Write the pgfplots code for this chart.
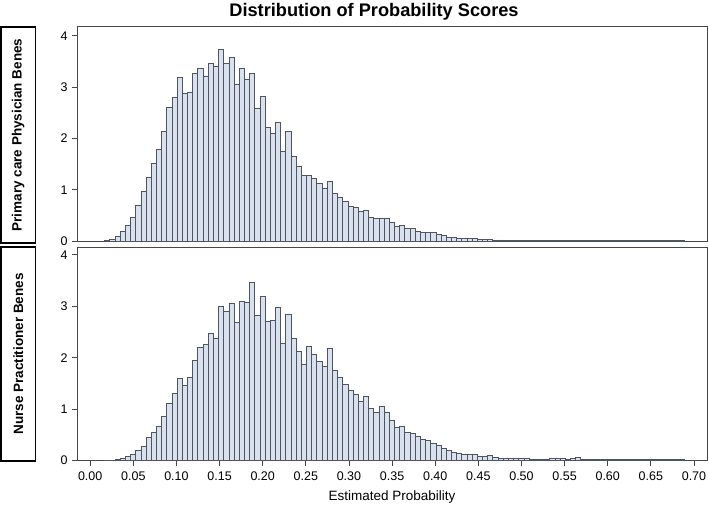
\documentclass[border=0pt]{standalone}
\usepackage{pgfplots}
\pgfplotsset{compat=1.18}
\usepackage{pgfplotstable}
\usepackage{fontspec}
\setmainfont{Liberation Sans}
\definecolor{barfill}{RGB}{216,225,237}
\definecolor{barline}{RGB}{78,84,96}
\definecolor{frame}{RGB}{70,70,70}

\pgfplotstableread{
x y
0.0168 0.005
0.0228 0.03
0.0288 0.10
0.0348 0.18
0.0408 0.31
0.0468 0.47
0.0528 0.69
0.0588 0.96
0.0648 1.24
0.0708 1.51
0.0768 1.78
0.0828 2.14
0.0888 2.60
0.0948 2.80
0.1008 3.19
0.1068 2.88
0.1128 2.90
0.1188 3.27
0.1248 3.37
0.1308 3.22
0.1368 3.46
0.1428 3.41
0.1488 3.74
0.1548 3.46
0.1608 3.59
0.1668 3.06
0.1728 3.37
0.1788 3.16
0.1848 3.27
0.1908 2.59
0.1968 2.82
0.2028 2.22
0.2088 2.10
0.2148 2.31
0.2208 1.74
0.2268 2.14
0.2328 1.65
0.2388 1.45
0.2448 1.28
0.2508 1.28
0.2568 1.22
0.2628 1.13
0.2688 1.03
0.2748 1.17
0.2808 0.92
0.2868 0.86
0.2928 0.77
0.2988 0.67
0.3048 0.66
0.3108 0.57
0.3168 0.60
0.3228 0.47
0.3288 0.45
0.3348 0.45
0.3408 0.45
0.3468 0.37
0.3528 0.29
0.3588 0.31
0.3648 0.25
0.3708 0.24
0.3768 0.19
0.3828 0.17
0.3888 0.17
0.3948 0.16
0.4008 0.12
0.4068 0.11
0.4128 0.08
0.4188 0.08
0.4248 0.05
0.4308 0.045
0.4368 0.045
0.4428 0.045
0.4488 0.03
0.4548 0.03
0.4608 0.025
0.4668 0.022
0.4728 0.02
0.4788 0.018
0.4848 0.016
0.4908 0.016
0.4968 0.018
0.5028 0.015
0.5088 0.014
0.5148 0.013
0.5208 0.012
0.5268 0.012
0.5328 0.012
0.5388 0.011
0.5448 0.011
0.5508 0.011
0.5568 0.010
0.5628 0.010
0.5688 0.010
0.5748 0.010
0.5808 0.010
0.5868 0.010
0.5928 0.010
0.5988 0.010
0.6048 0.010
0.6108 0.010
0.6168 0.010
0.6228 0.010
0.6288 0.010
0.6348 0.010
0.6408 0.010
0.6468 0.010
0.6528 0.010
0.6588 0.010
0.6648 0.010
0.6708 0.010
0.6768 0.010
0.6828 0.010
0.6888 0
}\toptable

\pgfplotstableread{
x y
0.0168 0.008
0.0228 0.012
0.0288 0.025
0.0348 0.05
0.0408 0.08
0.0468 0.12
0.0528 0.20
0.0588 0.28
0.0648 0.45
0.0708 0.55
0.0768 0.67
0.0828 0.85
0.0888 1.11
0.0948 1.31
0.1008 1.59
0.1068 1.46
0.1128 1.61
0.1188 1.94
0.1248 2.21
0.1308 2.25
0.1368 2.48
0.1428 2.37
0.1488 2.99
0.1548 2.91
0.1608 3.06
0.1668 2.69
0.1728 3.09
0.1788 3.08
0.1848 3.47
0.1908 2.83
0.1968 3.20
0.2028 2.71
0.2088 2.73
0.2148 2.98
0.2208 2.28
0.2268 2.85
0.2328 2.38
0.2388 2.13
0.2448 1.87
0.2508 2.22
0.2568 2.07
0.2628 1.92
0.2688 1.84
0.2748 2.19
0.2808 1.75
0.2868 1.61
0.2928 1.48
0.2988 1.37
0.3048 1.29
0.3108 1.15
0.3168 1.25
0.3228 1.02
0.3288 0.93
0.3348 1.05
0.3408 0.94
0.3468 0.78
0.3528 0.65
0.3588 0.66
0.3648 0.55
0.3708 0.52
0.3768 0.47
0.3828 0.41
0.3888 0.39
0.3948 0.34
0.4008 0.30
0.4068 0.23
0.4128 0.19
0.4188 0.16
0.4248 0.14
0.4308 0.12
0.4368 0.12
0.4428 0.11
0.4488 0.08
0.4548 0.08
0.4608 0.10
0.4668 0.07
0.4728 0.045
0.4788 0.045
0.4848 0.045
0.4908 0.04
0.4968 0.04
0.5028 0.04
0.5088 0.03
0.5148 0.03
0.5208 0.03
0.5268 0.03
0.5328 0.035
0.5388 0.035
0.5448 0.04
0.5508 0.02
0.5568 0.035
0.5628 0.06
0.5688 0.02
0.5748 0.02
0.5808 0.02
0.5868 0.025
0.5928 0.018
0.5988 0.018
0.6048 0.017
0.6108 0.016
0.6168 0.016
0.6228 0.015
0.6288 0.015
0.6348 0.015
0.6408 0.015
0.6468 0.015
0.6528 0.015
0.6588 0.015
0.6648 0.015
0.6708 0.015
0.6768 0.015
0.6828 0.015
0.6888 0
}\bottable

\pgfplotsset{
  panel/.style={
    scale only axis,
    width=630pt,
    xmin=-0.0153, xmax=0.7151,
    ymin=0,
    ytick={0,1,2,3,4},
    tick align=outside,
    tick pos=left,
    major tick length=5pt,
    axis line style={draw=frame, line width=0.9pt},
    every tick/.style={draw=frame, line width=0.9pt},
    tick label style={font=\fontsize{12.5}{14}\selectfont},
    /pgf/number format/assume math mode=true,
    yticklabel style={xshift=-1pt},
  },
  bars/.style={ybar interval, fill=barfill, draw=barline, line width=0.75pt},
}

\begin{document}
\begin{tikzpicture}
\useasboundingbox (0pt,0pt) rectangle (709pt,-512pt);

\node[font=\bfseries\fontsize{18.2}{20}\selectfont] at (374pt,-11.5pt) {Distribution of Probability Scores};

\begin{axis}[panel, at={(77pt,-241pt)}, anchor=south west,
  height=214.3pt, ymax=4.18, xtick=\empty]
  \addplot[bars] table[x=x,y=y] {\toptable};
\end{axis}

\begin{axis}[panel, at={(77pt,-460.5pt)}, anchor=south west,
  height=212.8pt, ymax=4.14,
  xtick={0,0.05,0.1,0.15,0.2,0.25,0.3,0.35,0.4,0.45,0.5,0.55,0.6,0.65,0.7},
  xticklabel style={yshift=-3pt, /pgf/number format/.cd, fixed, fixed zerofill, precision=2},
  xlabel={Estimated Probability},
  xlabel style={font=\fontsize{13.5}{15}\selectfont, yshift=-3pt},
  ]
  \addplot[bars] table[x=x,y=y] {\bottable};
\end{axis}

\draw[line width=1.5pt, black] (1pt,-27pt) rectangle (35.5pt,-243pt);
\draw[line width=1.5pt, black] (1pt,-247pt) rectangle (35.5pt,-461pt);
\node[rotate=90, font=\bfseries\fontsize{13.5}{15}\selectfont] at (18.25pt,-135pt) {Primary care Physician Benes};
\node[rotate=90, font=\bfseries\fontsize{13.5}{15}\selectfont] at (18.25pt,-354pt) {Nurse Practitioner Benes};
\end{tikzpicture}
\end{document}
